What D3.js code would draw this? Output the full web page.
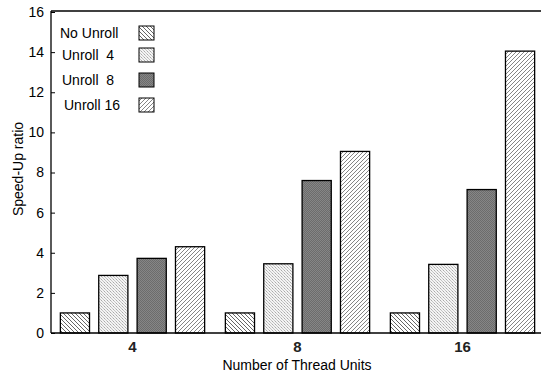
<!DOCTYPE html>
<html>
<head>
<meta charset="utf-8">
<script src="https://cdn.jsdelivr.net/npm/d3@7"></script>
<style>
  body { margin: 0; background: #fff; }
  text { font-family: "Liberation Sans", Arial, sans-serif; fill: #000; }
</style>
</head>
<body>
<script>
// data
var threads = ["4", "8", "16"];
var seriesNames = ["No Unroll", "Unroll  4", "Unroll  8", "Unroll 16"];
var noUnroll = [1.0, 1.0, 1.0];
var unroll4 = [2.87, 3.45, 3.42];
var unroll8 = [3.72, 7.6, 7.15];
var unroll16 = [4.3, 9.05, 14.05];
var yTicks = [0, 2, 4, 6, 8, 10, 12, 14, 16];

var width = 541, height = 379;
var svg = d3.select("body").append("svg")
  .attr("width", width)
  .attr("height", height);

var defs = svg.append("defs");

// hatch "\" for No Unroll
var p1 = defs.append("pattern").attr("id", "pNo")
  .attr("patternUnits", "userSpaceOnUse").attr("width", 4).attr("height", 4);
p1.append("rect").attr("width", 4).attr("height", 4).attr("fill", "#fff");
p1.append("path").attr("d", "M-1,-1 L5,5 M-1,3 L1,5 M3,-1 L5,1")
  .attr("stroke", "#555").attr("stroke-width", 0.9);

// fine light checker for Unroll 4
var p2 = defs.append("pattern").attr("id", "p4")
  .attr("patternUnits", "userSpaceOnUse").attr("width", 3).attr("height", 3);
p2.append("rect").attr("width", 3).attr("height", 3).attr("fill", "#f4f4f4");
p2.append("rect").attr("width", 1).attr("height", 1).attr("fill", "#aaa");
p2.append("rect").attr("x", 1).attr("y", 1).attr("width", 1).attr("height", 1).attr("fill", "#c4c4c4");
p2.append("rect").attr("x", 2).attr("y", 2).attr("width", 1).attr("height", 1).attr("fill", "#c4c4c4");

// dark checker for Unroll 8
var p3 = defs.append("pattern").attr("id", "p8")
  .attr("patternUnits", "userSpaceOnUse").attr("width", 2).attr("height", 2);
p3.append("rect").attr("width", 2).attr("height", 2).attr("fill", "#868686");
p3.append("rect").attr("width", 1).attr("height", 1).attr("fill", "#6c6c6c");
p3.append("rect").attr("x", 1).attr("y", 1).attr("width", 1).attr("height", 1).attr("fill", "#6c6c6c");

// hatch "/" for Unroll 16
var p4 = defs.append("pattern").attr("id", "p16")
  .attr("patternUnits", "userSpaceOnUse").attr("width", 4).attr("height", 4);
p4.append("rect").attr("width", 4).attr("height", 4).attr("fill", "#fff");
p4.append("path").attr("d", "M-1,5 L5,-1 M-1,1 L1,-1 M3,5 L5,3")
  .attr("stroke", "#777").attr("stroke-width", 0.9);

var fills = ["url(#pNo)", "url(#p4)", "url(#p8)", "url(#p16)"];
var allSeries = [noUnroll, unroll4, unroll8, unroll16];

var x0 = d3.scaleBand().domain(threads).range([50, 545]);
var x1 = d3.scaleBand().domain(d3.range(4)).range([0, x0.bandwidth()])
  .paddingInner(0.24).paddingOuter(0.27);
var y = d3.scaleLinear().domain([0, 16]).range([333, 12]);

// bars
var groups = svg.selectAll("g.grp").data(threads).enter().append("g")
  .attr("class", "grp")
  .attr("transform", function (d) { return "translate(" + x0(d) + ",0)"; });

groups.selectAll("rect").data(function (d, i) {
    return allSeries.map(function (s, k) { return { k: k, v: s[i] }; });
  }).enter().append("rect")
  .attr("x", function (d) { return x1(d.k); })
  .attr("y", function (d) { return y(d.v); })
  .attr("width", x1.bandwidth())
  .attr("height", function (d) { return y(0) - y(d.v); })
  .attr("fill", function (d) { return fills[d.k]; })
  .attr("stroke", "#000")
  .attr("stroke-width", 1.3);

// y axis
var yAxis = d3.axisLeft(y).tickValues(yTicks).tickSize(-4).tickPadding(7);
var gy = svg.append("g").attr("transform", "translate(51,0)").call(yAxis);
gy.select(".domain").remove();
gy.selectAll("text").style("font-size", "14px");
gy.selectAll("line").attr("stroke", "#000");

// frame: left, bottom, top
svg.append("line").attr("x1", 51).attr("x2", 51).attr("y1", y(16) - 1).attr("y2", y(0))
  .attr("stroke", "#000").attr("stroke-width", 1.3);
svg.append("line").attr("x1", 51).attr("x2", width).attr("y1", y(0)).attr("y2", y(0))
  .attr("stroke", "#000").attr("stroke-width", 1.3);
svg.append("line").attr("x1", 51).attr("x2", width).attr("y1", y(16) - 1).attr("y2", y(16) - 1)
  .attr("stroke", "#000").attr("stroke-width", 1.3);

// x axis labels
var xAxis = d3.axisBottom(x0).tickSize(0).tickPadding(8);
var gx = svg.append("g").attr("transform", "translate(0," + y(0) + ")").call(xAxis);
gx.select(".domain").remove();
gx.selectAll("text").style("font-size", "15px").style("font-weight", "bold")
  .style("fill", "#222");

// axis titles
svg.append("text").attr("x", 297).attr("y", 370)
  .attr("text-anchor", "middle").style("font-size", "14px")
  .text("Number of Thread Units");
svg.append("text")
  .attr("transform", "translate(23,169) rotate(-90)")
  .attr("text-anchor", "middle").style("font-size", "14px")
  .text("Speed-Up ratio");

// legend
var legY = [33, 55, 80, 105];
var legX = [60, 62, 62, 64];
var leg = svg.selectAll("g.leg").data(seriesNames).enter().append("g").attr("class", "leg");
leg.append("text")
  .attr("x", function (d, i) { return legX[i]; })
  .attr("y", function (d, i) { return legY[i]; })
  .attr("dy", "0.35em")
  .style("font-size", "14px")
  .style("white-space", "pre")
  .attr("xml:space", "preserve")
  .text(function (d) { return d; });
leg.append("rect")
  .attr("x", 139)
  .attr("y", function (d, i) { return legY[i] - 7; })
  .attr("width", 15).attr("height", 14)
  .attr("fill", function (d, i) { return fills[i]; })
  .attr("stroke", "#000").attr("stroke-width", 1);
</script>
</body>
</html>
